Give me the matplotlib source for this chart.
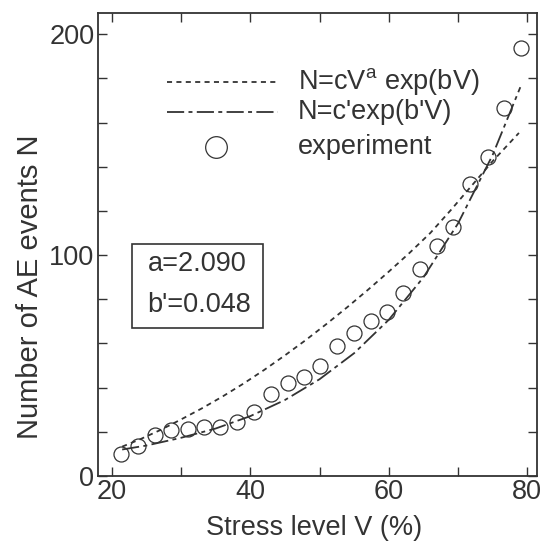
import numpy as np
import matplotlib
matplotlib.use("Agg")
import matplotlib.pyplot as plt
from matplotlib.lines import Line2D
from matplotlib.patches import Rectangle

plt.rcParams['font.family'] = ['Liberation Sans', 'DejaVu Sans']
plt.rcParams['mathtext.fontset'] = 'custom'
plt.rcParams['mathtext.rm'] = 'Liberation Sans'

# experiment
V_exp = [21.3, 23.8, 26.2, 28.6, 31.0, 33.3, 35.7, 38.1, 40.6, 43.0, 45.4, 47.7, 50.1,
         52.5, 55.0, 57.4, 59.8, 62.1, 64.5, 66.9, 69.3, 71.8, 74.3, 76.6, 79.1]
N_exp = [9.9, 13.5, 18.6, 21.0, 21.5, 22.4, 22.4, 24.5, 28.9, 37.2, 41.9, 44.9, 50.0,
         58.9, 64.8, 70.2, 74.4, 82.9, 93.8, 104.3, 112.6, 132.1, 144.6, 166.5, 193.9]

# N=cV^a exp(bV) curve (dotted)
V_pow = [21.5, 24, 27, 30, 33, 36, 39, 42, 45, 48, 51, 54, 57, 60, 63, 66, 69, 72, 75, 78.8]
N_pow = [13.3, 16.5, 20.8, 25.6, 30.6, 36.0, 41.8, 48.0, 54.6, 61.5, 68.8, 76.4, 84.3,
         92.5, 101.0, 110.0, 120.5, 131.5, 142.5, 155.3]

# N=c'exp(b'V) curve (dash-dot)
V_exp_fit = [21.5, 25, 30, 35, 40, 45, 50, 55, 60, 65, 70, 75, 79]
N_exp_fit = [12.0, 13.8, 17.3, 21.5, 27.1, 34.4, 43.8, 55.6, 70.7, 89.9, 114.3, 145.3, 176.0]

labels = [r"N=cV$^{\mathrm{a}}$ exp(bV)", "N=c'exp(b'V)", "experiment"]
params = ["a=2.090", "b'=0.048"]

x_ticks = [20, 30, 40, 50, 60, 70, 80]
x_labels = ["20", "", "40", "", "60", "", "80"]
y_ticks = [0, 20, 40, 60, 80, 100, 120, 140, 160, 180, 200]
y_labels = ["0", "", "", "", "", "100", "", "", "", "", "200"]

ink = "#333333"
fs = 19.5
dot_style = dict(color=ink, lw=1.3, dashes=(2.8, 2.4))
dashdot_style = dict(color=ink, lw=1.3, dashes=(9.5, 2.4, 2.2, 2.4))

fig = plt.figure(figsize=(5.44, 5.5), dpi=100)
ax = fig.add_axes([0.180, 0.1345, 0.807, 0.8415])

ax.plot(V_pow, N_pow, **dot_style)
ax.plot(V_exp_fit, N_exp_fit, **dashdot_style)
ax.plot(V_exp, N_exp, 'o', ms=10.8, mfc='none', mec=ink, mew=0.9)

ax.set_xlim(18.0, 81.4)
ax.set_ylim(0, 209.5)
ax.set_xticks(x_ticks)
ax.set_xticklabels(x_labels)
ax.set_yticks(y_ticks)
ax.set_yticklabels(y_labels)
ax.tick_params(direction='in', length=6.5, width=1.0, color=ink, labelcolor=ink,
               labelsize=fs, top=True, right=True)
ax.tick_params(axis='y', pad=2.5)
ax.tick_params(axis='x', pad=2.0)
for s in ax.spines.values():
    s.set_linewidth(1.3)
    s.set_color(ink)

ax.set_xlabel("Stress level V (%)", fontsize=fs, color=ink)
ax.set_ylabel("Number of AE events N", fontsize=21, color=ink)
ax.xaxis.set_label_coords(0.493, -0.085)
ax.yaxis.set_label_coords(-0.122, 0.41)

# legend, drawn by hand in axes coords
leg_y = [0.8516, 0.787, 0.711]
ax.add_line(Line2D([0.1565, 0.41], [leg_y[0]] * 2, transform=ax.transAxes, **dot_style))
ax.add_line(Line2D([0.1565, 0.41], [leg_y[1]] * 2, transform=ax.transAxes, **dashdot_style))
ax.plot([0.270], [leg_y[2]], 'o', ms=15.6, mfc='none', mec=ink, mew=0.9,
        transform=ax.transAxes)
for lab, y in zip(labels, leg_y):
    ax.text(0.4556, y, lab, transform=ax.transAxes, fontsize=fs, color=ink,
            va='center', ha='left')

# parameter box
ax.add_patch(Rectangle((0.0774, 0.320), 0.2986, 0.181, transform=ax.transAxes,
                       fill=False, ec=ink, lw=1.2))
ax.text(0.113, 0.458, params[0], transform=ax.transAxes, fontsize=fs, color=ink, va='center')
ax.text(0.113, 0.369, params[1], transform=ax.transAxes, fontsize=fs, color=ink, va='center')

fig.savefig("out.png", dpi=100, facecolor='white')
